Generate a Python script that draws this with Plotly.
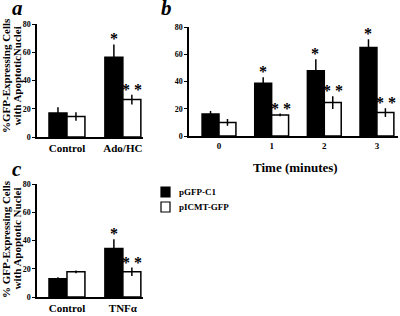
import plotly.graph_objects as go

# ---- data ----
a_cats = ["Control", "Ado/HC"]
a_gfp = [17, 56.5]
a_gfp_err = [4, 9]
a_icmt = [14.5, 26.5]
a_icmt_err = [3, 3.5]
a_sig_gfp = ["", "*"]
a_sig_icmt = ["", "* *"]

b_cats = ["0", "1", "2", "3"]
b_gfp = [16.2, 38.8, 47.9, 65]
b_gfp_err = [2.2, 4.4, 8.5, 6]
b_icmt = [10, 15.5, 24.5, 17.2]
b_icmt_err = [2.5, 1, 4.7, 3.2]
b_sig_gfp = ["", "*", "*", "*"]
b_sig_icmt = ["", "* *", "* *", "* *"]

c_cats = ["Control", "TNFα"]
c_gfp = [13, 34.3]
c_gfp_err = [1, 6.6]
c_icmt = [17.8, 17.8]
c_icmt_err = [1, 3]
c_sig_gfp = ["", "*"]
c_sig_icmt = ["", "* *"]

series_names = ["pGFP-C1", "pICMT-GFP"]
series_colors = ["black", "white"]
yticks = [0, 20, 40, 60, 80]

a_title = ["%GFP-Expressing Cells", "with ApoptoticNuclei"]
c_title = ["% GFP-Expressing Cells", "with Apoptotic Nuclei"]
b_xtitle = "Time (minutes)"

FONT = "Liberation Serif"

def f(size, weight="bold"):
    return dict(family=FONT, size=size, color="black", weight=weight)

fig = go.Figure()

panels = [
    ("x", "y", a_cats, a_gfp, a_gfp_err, a_icmt, a_icmt_err, a_sig_gfp, a_sig_icmt),
    ("x2", "y2", b_cats, b_gfp, b_gfp_err, b_icmt, b_icmt_err, b_sig_gfp, b_sig_icmt),
    ("x3", "y3", c_cats, c_gfp, c_gfp_err, c_icmt, c_icmt_err, c_sig_gfp, c_sig_icmt),
]

for xa, ya, cats, g, ge, ic, ice, sg, si in panels:
    fig.add_trace(go.Bar(
        x=cats, y=g, name=series_names[0], xaxis=xa, yaxis=ya,
        marker=dict(color=series_colors[0], line=dict(color="black", width=1.5)),
        error_y=dict(type="data", array=ge, color="black", thickness=1.5, width=0),
        showlegend=False))
    fig.add_trace(go.Bar(
        x=cats, y=ic, name=series_names[1], xaxis=xa, yaxis=ya,
        marker=dict(color=series_colors[1], line=dict(color="black", width=1.5)),
        error_y=dict(type="data", array=ice, color="black", thickness=1.5, width=0),
        showlegend=False))
    for i, c in enumerate(cats):
        if sg[i]:
            fig.add_annotation(x=c, y=g[i] + ge[i], xref=xa, yref=ya, text=sg[i],
                               showarrow=False, xanchor="center", yanchor="bottom",
                               xshift=-9, yshift=-5, font=f(16))
        if si[i]:
            fig.add_annotation(x=c, y=ic[i] + ice[i], xref=xa, yref=ya, text=si[i],
                               showarrow=False, xanchor="center", yanchor="bottom",
                               xshift=9, yshift=-5, font=f(16))

# positions below are in window pixels (page body margin removed below)
W, H = 400, 316
def px(v): return v / W
def py(v): return 1 - v / H

yax_common = dict(range=[0, 80], tickvals=yticks, showline=True, linecolor="black", linewidth=1.5,
                  ticks="outside", ticklen=3, tickwidth=1, tickcolor="black", showgrid=False,
                  zeroline=False, tickfont=f(8), fixedrange=True, automargin=False)
xax_common = dict(showline=True, linecolor="black", linewidth=1.5, ticks="", showgrid=False,
                  zeroline=False, tickfont=f(11), type="category", automargin=False)

fig.update_layout(
    width=W, height=H, margin=dict(l=0, r=0, t=0, b=0),
    plot_bgcolor="white", paper_bgcolor="white",
    barmode="group", bargap=0.357, bargroupgap=0,
    font=dict(family=FONT, color="black"),
    showlegend=False,
    xaxis=dict(xax_common, domain=[px(37), px(143)], range=[-0.536, 1.36], anchor="y"),
    yaxis=dict(yax_common, domain=[py(137), py(24)], anchor="x"),
    xaxis2=dict(xax_common, domain=[px(189), px(398)], range=[-0.57, 3.4], anchor="y2", tickfont=f(9)),
    yaxis2=dict(yax_common, domain=[py(136), py(27)], anchor="x2"),
    xaxis3=dict(xax_common, domain=[px(37), px(143)], range=[-0.536, 1.36], anchor="y3"),
    yaxis3=dict(yax_common, domain=[py(297), py(184)], anchor="x3"),
)

def note(text, x, y, size, angle=0, xanchor="center"):
    fig.add_annotation(text=text, x=px(x), y=py(y), xref="paper", yref="paper",
                       xanchor=xanchor, yanchor="middle", textangle=angle,
                       showarrow=False, font=f(size))

# y-axis titles (two rotated lines each)
for lines, yc in [(a_title, 76), (c_title, 239)]:
    for line, xc in zip(lines, [6, 16.5]):
        note(line, xc, yc, 11, angle=-90)

# x-axis title of panel b
note(b_xtitle, 295, 167, 13)

# legend (swatches + labels)
for name, col, yc in zip(series_names, series_colors, [192, 207]):
    fig.add_shape(type="rect", xref="paper", yref="paper",
                  x0=px(161), x1=px(170), y0=py(yc - 5), y1=py(yc + 5),
                  fillcolor=col, line=dict(color="black", width=1.2))
    note(name, 177, yc, 9, xanchor="left")

# panel letters
for txt, x, y in [("a", 17, 8), ("b", 166, 8), ("c", 17, 169)]:
    note("<i>" + txt + "</i>", x, y, 21)

fig.write_html("out.html", config={"displayModeBar": False},
               post_script="document.body.style.margin='0px';")
